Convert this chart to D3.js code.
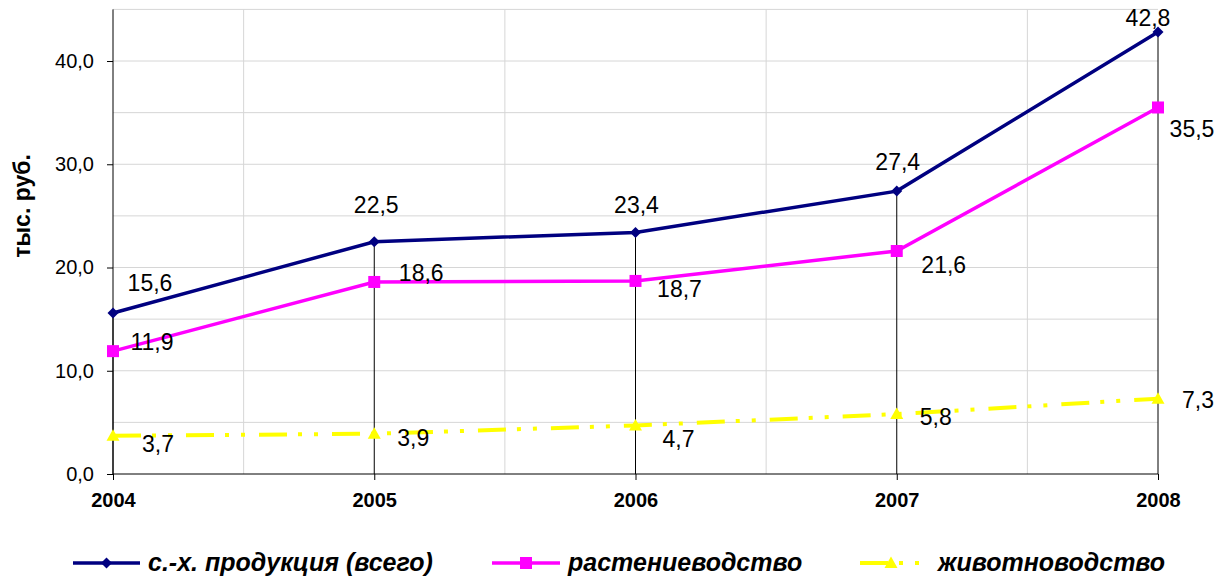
<!DOCTYPE html>
<html>
<head>
<meta charset="utf-8">
<script src="https://cdn.jsdelivr.net/npm/d3@7"></script>
<style>
  body { margin: 0; background: #fff; }
  svg { display: block; font-family: "Liberation Sans", Arial, sans-serif; }
</style>
</head>
<body>
<div id="chart"></div>
<script>
// data
const years = ["2004", "2005", "2006", "2007", "2008"];
const totalValues = [15.6, 22.5, 23.4, 27.4, 42.8];
const cropValues = [11.9, 18.6, 18.7, 21.6, 35.5];
const livestockValues = [3.7, 3.9, 4.7, 5.8, 7.3];
const seriesNames = ["с.-х. продукция (всего)", "растениеводство", "животноводство"];
const yTickValues = [0, 10, 20, 30, 40];
const yAxisTitle = "тыс. руб.";

// label nudges (dx, dy of baseline from the point), as placed in the original
const labelNudge = [
  [[37, -22], [2, -29], [1, -19], [1, -21], [-10, -6]],
  [[39, -1], [47, -1], [44, 16], [47, 22], [34, 30]],
  [[45, 16], [39, 12], [43, 22], [39, 11], [40, 9]]
];

const width = 1232, height = 577;
const margin = { top: 9, right: 74, bottom: 103, left: 113 };

const svg = d3.select("#chart")
  .append("svg")
  .attr("width", width)
  .attr("height", height);

const x = d3.scalePoint()
  .domain(years)
  .range([margin.left, width - margin.right]);

const y = d3.scaleLinear()
  .domain([0, 45])
  .range([height - margin.bottom, margin.top + 0.4]);

const fmt = v => d3.format(".1f")(v).replace(".", ",");

// gridlines: horizontal every 5, vertical between categories
svg.append("g")
  .selectAll("line")
  .data(d3.range(5, 46, 5))
  .join("line")
  .attr("x1", x(years[0]))
  .attr("x2", x(years[years.length - 1]))
  .attr("y1", d => y(d))
  .attr("y2", d => y(d))
  .attr("stroke", "#d6d6d6")
  .attr("stroke-width", 1);

svg.append("g")
  .selectAll("line")
  .data(years.slice(1))
  .join("line")
  .attr("x1", (d, i) => (x(d) + x(years[i])) / 2)
  .attr("x2", (d, i) => (x(d) + x(years[i])) / 2)
  .attr("y1", y(45))
  .attr("y2", y(0))
  .attr("stroke", "#d6d6d6")
  .attr("stroke-width", 1);

// drop lines from the top series
svg.append("g")
  .selectAll("line")
  .data(years)
  .join("line")
  .attr("x1", d => x(d))
  .attr("x2", d => x(d))
  .attr("y1", (d, i) => y(totalValues[i]))
  .attr("y2", y(0))
  .attr("stroke", "#000")
  .attr("stroke-width", 1);

// axes
const yAxis = svg.append("g")
  .attr("transform", `translate(${margin.left},0)`)
  .call(d3.axisLeft(y).tickValues(yTickValues).tickFormat(fmt)
    .tickSize(6).tickSizeOuter(0).tickPadding(13));
yAxis.select(".domain").remove();
yAxis.selectAll("text").attr("font-size", 20).attr("fill", "#000")
  .style("font-family", "'Liberation Sans', Arial, sans-serif");
yAxis.selectAll("line").attr("stroke", "#000");
svg.append("line")
  .attr("x1", margin.left).attr("x2", margin.left)
  .attr("y1", y(45)).attr("y2", y(0))
  .attr("stroke", "#000");

const xAxis = svg.append("g")
  .attr("transform", `translate(0,${y(0)})`)
  .call(d3.axisBottom(x).tickSize(6).tickSizeOuter(0).tickPadding(13));
xAxis.select(".domain").remove();
xAxis.selectAll("text").attr("font-size", 20).attr("font-weight", "bold").attr("fill", "#000")
  .style("font-family", "'Liberation Sans', Arial, sans-serif");
xAxis.selectAll("line").attr("stroke", "#000");
svg.append("line")
  .attr("x1", x(years[0])).attr("x2", x(years[years.length - 1]))
  .attr("y1", y(0)).attr("y2", y(0))
  .attr("stroke", "#000");

// y title
svg.append("text")
  .attr("transform", "translate(30,206) rotate(-90)")
  .attr("text-anchor", "middle")
  .attr("font-size", 23)
  .attr("font-weight", "bold")
  .text(yAxisTitle);

// series
const markers = {
  diamond: "M0,-5.5L5.5,0L0,5.5L-5.5,0Z",
  square: "M-6,-6H6V6H-6Z",
  triangle: "M0,-6.5L6.5,5H-6.5Z"
};

const series = [
  { name: seriesNames[0], values: totalValues, color: "#000080", width: 3.5, dash: null, marker: markers.diamond },
  { name: seriesNames[1], values: cropValues, color: "#ff00ff", width: 3.5, dash: null, marker: markers.square },
  { name: seriesNames[2], values: livestockValues, color: "#ffff00", width: 4, dash: "28,11,4,12,4,14", marker: markers.triangle }
];

const line = d3.line()
  .x((d, i) => x(years[i]))
  .y(d => y(d));

// draw bottom series first
series.slice().reverse().forEach(s => {
  svg.append("path")
    .datum(s.values)
    .attr("d", line)
    .attr("fill", "none")
    .attr("stroke", s.color)
    .attr("stroke-width", s.width)
    .attr("stroke-dasharray", s.dash);

  svg.append("g")
    .selectAll("path")
    .data(s.values)
    .join("path")
    .attr("d", s.marker)
    .attr("transform", (d, i) => `translate(${x(years[i])},${y(d)})`)
    .attr("fill", s.color);
});

// data labels
series.forEach((s, si) => {
  svg.append("g")
    .selectAll("text")
    .data(s.values)
    .join("text")
    .attr("x", (d, i) => x(years[i]) + labelNudge[si][i][0])
    .attr("y", (d, i) => y(d) + labelNudge[si][i][1])
    .attr("text-anchor", "middle")
    .attr("font-size", 23)
    .attr("fill", "#000")
    .text(fmt);
});

// legend
const legendY = 563;
const legendItems = [
  { x1: 73, x2: 140, tx: 148 },
  { x1: 492, x2: 560, tx: 568 },
  { x1: 860, x2: 922, tx: 938 }
];

series.forEach((s, i) => {
  const L = legendItems[i];
  const g = svg.append("g");
  g.append("line")
    .attr("x1", L.x1).attr("x2", L.x2)
    .attr("y1", legendY).attr("y2", legendY)
    .attr("stroke", s.color)
    .attr("stroke-width", s.width)
    .attr("stroke-dasharray", s.dash);
  g.append("path")
    .attr("d", s.marker)
    .attr("transform", `translate(${(L.x1 + L.x2) / 2},${legendY})`)
    .attr("fill", s.color);
  g.append("text")
    .attr("x", L.tx)
    .attr("y", legendY + 8)
    .attr("font-size", 25)
    .attr("font-weight", "bold")
    .attr("font-style", "italic")
    .text(s.name);
});
</script>
</body>
</html>
